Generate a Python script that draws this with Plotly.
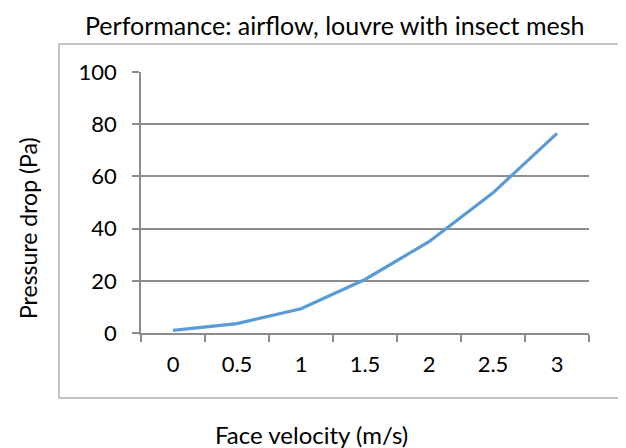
import plotly.graph_objects as go

categories = ["0", "0.5", "1", "1.5", "2", "2.5", "3"]
pressure_drop = [1.0, 3.6, 9.3, 20.5, 35.0, 53.7, 76.5]
y_ticks = [0, 20, 40, 60, 80, 100]

W, H = 626, 448
OFF = 8  # page body margin shifts the figure by this much
# desired on-screen plot box: x 141..589, y 72..333
L = 141 - OFF
T = 72 - OFF
R = W - (589 - OFF)
B = H - (333 - OFF)
pw, ph = W - L - R, H - T - B

def px_x(px):
    return (px - OFF - L) / pw

def px_y(py):
    return (H - B - (py - OFF)) / ph

FONT = "Lato"
axis_gray = "#8c8c8c"

fig = go.Figure()
fig.add_trace(go.Scatter(
    x=categories, y=pressure_drop, mode="lines",
    line=dict(color="#5b9bd5", width=3.2),
    showlegend=False, hoverinfo="skip",
))

fig.update_layout(
    width=W, height=H,
    margin=dict(l=L, r=R, t=T, b=B),
    paper_bgcolor="white", plot_bgcolor="white",
    font=dict(family=FONT, color="#000000", size=22),
    xaxis=dict(
        type="category", tickson="boundaries", ticks="outside", ticklen=7,
        tickcolor=axis_gray, tickwidth=1.5,
        showline=True, linecolor=axis_gray, linewidth=1.5,
        showgrid=False, zeroline=False, fixedrange=True,
        tickfont=dict(size=22), ticklabelstandoff=11,
        range=[-0.5, 6.5],
    ),
    yaxis=dict(
        range=[0, 100], tickvals=y_ticks, ticktext=[str(v) for v in y_ticks],
        ticks="outside", ticklen=7, tickcolor=axis_gray, tickwidth=1.5,
        showline=True, linecolor=axis_gray, linewidth=1.5,
        showgrid=True, gridcolor=axis_gray, gridwidth=1.5,
        zeroline=False, fixedrange=True,
        tickfont=dict(size=22), ticklabelstandoff=11,
    ),
    shapes=[dict(
        type="rect", xref="paper", yref="paper",
        x0=px_x(59), x1=px_x(619), y0=px_y(398), y1=px_y(44),
        line=dict(color="#b3b3b3", width=1.5), fillcolor="rgba(0,0,0,0)",
        layer="below",
    )],
    annotations=[
        dict(text="Performance: airflow, louvre with insect mesh",
             xref="paper", yref="paper", x=px_x(335), y=px_y(25),
             xanchor="center", yanchor="middle", showarrow=False,
             font=dict(size=25)),
        dict(text="Face velocity (m/s)",
             xref="paper", yref="paper", x=px_x(311), y=px_y(434),
             xanchor="center", yanchor="middle", showarrow=False,
             font=dict(size=24)),
        dict(text="Pressure drop (Pa)",
             xref="paper", yref="paper", x=px_x(28), y=px_y(228),
             xanchor="center", yanchor="middle", showarrow=False,
             textangle=-90, font=dict(size=23)),
    ],
)

fig.write_html("out.html")
